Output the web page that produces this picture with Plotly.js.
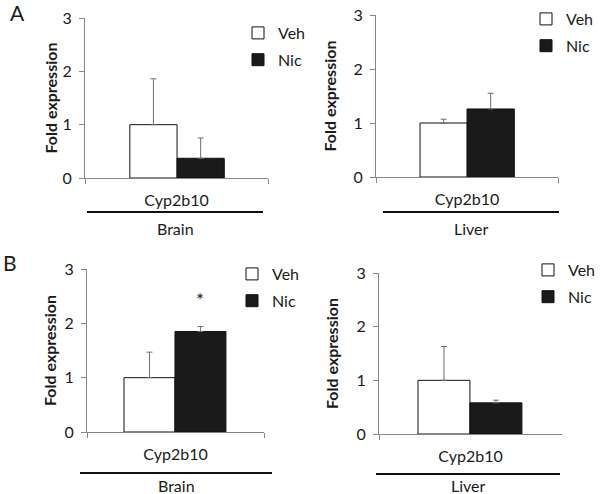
<!DOCTYPE html>
<html>
<head>
<meta charset="utf-8">
<script src="https://cdn.plot.ly/plotly-3.0.1.min.js"></script>
<style>html,body{margin:0;padding:0;background:#fff;}#chart{width:600px;height:494px;}</style>
</head>
<body>
<div id="chart"></div>
<script>
// ---- data ----
const categories = ['Cyp2b10'];
const panelLetters = ['A', 'B'];
const tissues = ['Brain', 'Liver', 'Brain', 'Liver'];
const seriesNames = ['Veh', 'Nic'];
const vehMean = [1.00, 1.00, 1.00, 1.00];
const vehErr  = [0.86, 0.07, 0.47, 0.63];
const nicMean = [0.37, 1.26, 1.85, 0.58];
const nicErr  = [0.38, 0.29, 0.09, 0.05];
const yTicks = [0, 1, 2, 3];
const yTitle = 'Fold expression';
const significance = ['', '', '*', ''];

// ---- layout helpers (pixel -> paper) ----
const W = 600, H = 494;
const px = v => v / W;
const py = v => 1 - v / H;

const FONT = 'Lato, "Open Sans", sans-serif';
const AXIS = '#868686';
const TXT = '#1a1a1a';

// panel geometry in pixels: [left, right, top(y=3), bottom(y=0)]
const geom = [
  [85, 268, 18, 178],
  [376, 558, 15, 177],
  [87, 264, 269, 432],
  [379, 562, 273, 434]
];
// bar placement (category units) per panel: [width, vehOffset, nicOffset]
const barPlace = [
  [0.258, -0.255, 0.003],
  [0.260, -0.258, 0.000],
  [0.288, -0.291, -0.003],
  [0.284, -0.287, -0.003]
];
const titleStandoff = [0, 12, 3, 13];
const legendPos = [[238, 16], [526, 2], [232, 257], [528, 253]];
const linePos = [[87, 263, 212], [383, 559, 212], [80, 272, 473], [376, 560, 474]];
const tissueY = [228, 228, 485, 485];

const traces = [];
const layout = {
  width: W, height: H,
  margin: {l: 0, r: 0, t: 0, b: 0, pad: 0, autoexpand: false},
  paper_bgcolor: '#fff', plot_bgcolor: 'rgba(0,0,0,0)',
  font: {family: FONT, color: TXT, size: 15},
  barmode: 'overlay',
  showlegend: true,
  shapes: [], annotations: []
};

for (let i = 0; i < 4; i++) {
  const sfx = i === 0 ? '' : String(i + 1);
  const xa = 'x' + sfx, ya = 'y' + sfx;
  const lg = 'legend' + sfx;
  const [w, oV, oN] = barPlace[i];
  traces.push({
    type: 'bar', name: seriesNames[0], x: categories, y: [vehMean[i]],
    xaxis: xa, yaxis: ya, legend: lg, legendgroup: 'veh' + i,
    width: w, offset: oV,
    marker: {color: '#ffffff', line: {color: '#111', width: 1}},
    error_y: {type: 'data', symmetric: false, array: [vehErr[i]], arrayminus: [0],
              color: '#6e6e6e', thickness: 1, width: 3},
    hoverinfo: 'skip'
  });
  traces.push({
    type: 'bar', name: seriesNames[1], x: categories, y: [nicMean[i]],
    xaxis: xa, yaxis: ya, legend: lg, legendgroup: 'nic' + i,
    width: w, offset: oN,
    marker: {color: '#1a1a1a', line: {color: '#111', width: 1}},
    error_y: {type: 'data', symmetric: false, array: [nicErr[i]], arrayminus: [0],
              color: '#6e6e6e', thickness: 1, width: 3},
    hoverinfo: 'skip'
  });
  const [L, R, T, B] = geom[i];
  layout['xaxis' + sfx] = {
    domain: [px(L), px(R)], anchor: ya, type: 'category', range: [-0.5, 0.5],
    showline: true, linecolor: AXIS, linewidth: 1, ticks: 'outside', tickson: 'boundaries',
    ticklen: 5, tickcolor: AXIS, showgrid: false, zeroline: false,
    tickfont: {size: 16, color: TXT, family: FONT}, ticklabelstandoff: 8, fixedrange: true
  };
  layout['yaxis' + sfx] = {
    domain: [py(B), py(T)], anchor: xa, range: [0, 3], tickvals: yTicks,
    showline: true, linecolor: AXIS, linewidth: 1, ticks: 'outside', ticklen: 5, tickcolor: AXIS,
    showgrid: false, zeroline: false, tickfont: {size: 16, color: TXT, family: FONT}, ticklabelstandoff: 4,
    title: {text: yTitle, font: {size: 16, color: TXT, family: FONT, weight: 'bold'}, standoff: titleStandoff[i]},
    fixedrange: true
  };
  layout[lg] = {
    x: px(legendPos[i][0]), y: py(legendPos[i][1]), xanchor: 'left', yanchor: 'top',
    xref: 'paper', yref: 'paper', bgcolor: 'rgba(0,0,0,0)', borderwidth: 0,
    font: {size: 16, color: TXT, family: FONT}, traceorder: 'grouped', tracegroupgap: 3,
    itemclick: false, itemdoubleclick: false
  };
  const [x0, x1, ly] = linePos[i];
  layout.shapes.push({type: 'line', xref: 'paper', yref: 'paper',
    x0: px(x0), x1: px(x1), y0: py(ly), y1: py(ly), line: {color: '#111', width: 2}});
  layout.annotations.push({xref: 'paper', yref: 'paper', x: px((x0 + x1) / 2), y: py(tissueY[i]),
    text: tissues[i], showarrow: false, xanchor: 'center', yanchor: 'middle',
    font: {size: 16, color: TXT, family: FONT}});
  if (significance[i]) {
    layout.annotations.push({xref: xa, yref: ya, x: oN + w / 2, y: nicMean[i] + nicErr[i] + 0.5,
      text: significance[i], showarrow: false, xanchor: 'center', yanchor: 'middle',
      font: {size: 19, color: TXT, family: FONT}});
  }
}
layout.annotations.push({xref: 'paper', yref: 'paper', x: px(17), y: py(13), text: panelLetters[0],
  showarrow: false, xanchor: 'center', yanchor: 'middle', font: {size: 21, color: TXT, family: FONT}});
layout.annotations.push({xref: 'paper', yref: 'paper', x: px(10), y: py(262), text: panelLetters[1],
  showarrow: false, xanchor: 'center', yanchor: 'middle', font: {size: 21, color: TXT, family: FONT}});

Plotly.newPlot('chart', traces, layout, {staticPlot: true, displayModeBar: false});
</script>
</body>
</html>
